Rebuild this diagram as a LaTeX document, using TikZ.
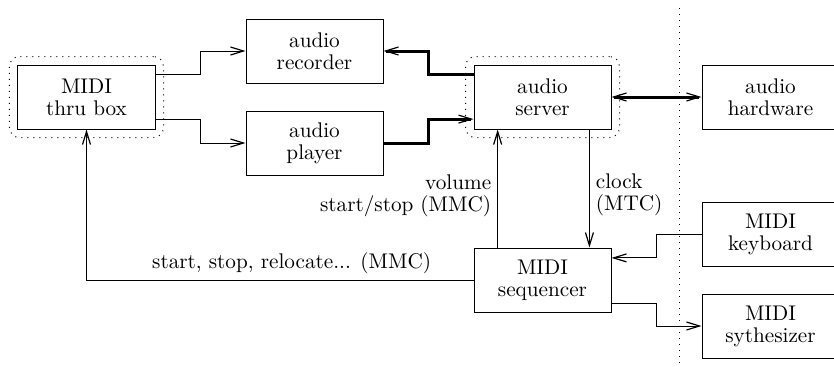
\documentclass[tikz,border=0pt]{standalone}
\usepackage{tikz}
\usetikzlibrary{arrows.meta,positioning,calc,fit}
\tikzset{
    blk/.style={draw,line width=0.5pt,minimum width=68.5pt,minimum height=32pt,align=center,inner sep=0pt,font=\fontsize{10.6}{11}\selectfont},
    grp/.style={draw,dash pattern=on 0.5pt off 2.5pt,line width=0.5pt,rounded corners=5pt,inner sep=4pt},
    sep/.style={dash pattern=on 0.5pt off 2.5pt,line width=0.5pt},
    sig/.style={->,line width=0.5pt},
    fat/.style={line width=1.5pt},
    lbl/.style={font=\fontsize{10.6}{11}\selectfont,inner sep=3pt},
}
\begin{document}
\begin{tikzpicture}[>={Straight Barb[length=6.5pt,width=4pt,line width=0.6pt]}]
    \useasboundingbox (-43.25pt,48.5pt) rectangle (373.75pt,-134.5pt);
    \node[blk] (thru) {MIDI\\thru box};
    \node[blk,right=45pt of thru,yshift=23pt] (rec) {audio\\recorder};
    \node[blk,right=45pt of thru,yshift=-23pt] (play) {audio\\player};
    \node[blk,right=45pt of rec,yshift=-23pt] (srv) {audio\\server};
    \node[blk,right=45pt of srv] (hw) {audio\\hardware};
    \node[blk,below=59pt of srv] (seq) {MIDI\\sequencer};
    \node[blk,right=45pt of seq,yshift=23pt] (kbd) {MIDI\\keyboard};
    \node[blk,right=45pt of seq,yshift=-23pt] (syn) {MIDI\\sythesizer};
    \node[grp,fit=(thru)] (thrugrp) {};
    \node[grp,fit=(srv)] (srvgrp) {};
    % attachment points
    \coordinate (thruA) at ($(thru.north east)!0.16!(thru.south east)$);
    \coordinate (thruB) at ($(thru.north east)!0.84!(thru.south east)$);
    \coordinate (srvA) at ($(srv.north west)!0.16!(srv.south west)$);
    \coordinate (srvB) at ($(srv.north west)!0.84!(srv.south west)$);
    \coordinate (srvC) at ($(srv.south west)!0.84!(srv.south east)$);
    \coordinate (seqA) at ($(seq.north west)!0.175!(seq.north east)$);
    \coordinate (seqB) at ($(seq.north east)!0.16!(seq.south east)$);
    \coordinate (seqC) at ($(seq.north east)!0.86!(seq.south east)$);
    \draw[sig] (thruA) -- ++(22.5pt,0) |- (rec.west);
    \draw[sig] (thruB) -- ++(22.5pt,0) |- (play.west);
    \draw[sig,fat] (srvA) -- ++(-22.5pt,0) |- (rec.east);
    \draw[sig,fat] (play.east) -- ++(22.5pt,0) |- (srvB);
    \draw[fat,<->] (srv) -- (hw);
    \draw[sig] (seqA) -- (seqA |- srv.south) node[lbl,left,pos=0.44,align=right] {volume\\start/stop (MMC)};
    \draw[sig] (srvC) -- (srvC |- seq.north) node[lbl,right,pos=0.55,align=left] {clock\\(MTC)};
    \draw[sig] (seq.west) -| (thru.south) node[lbl,above,pos=0.235] {start, stop, relocate... (MMC)};
    \draw[sig] (kbd.west) -- ++(-22.5pt,0) |- (seqB);
    \draw[sig] (seqC) -- ++(22.5pt,0) |- (syn.west);
    % divider
    \coordinate (divtop) at ($(srv.east)!0.75!(hw.west)+(0,44.5pt)$);
    \coordinate (divbot) at ($(srv.east)!0.75!(hw.west)+(0,-134.5pt)$);
    \draw[sep] (divtop) -- (divbot);
\end{tikzpicture}
\end{document}
